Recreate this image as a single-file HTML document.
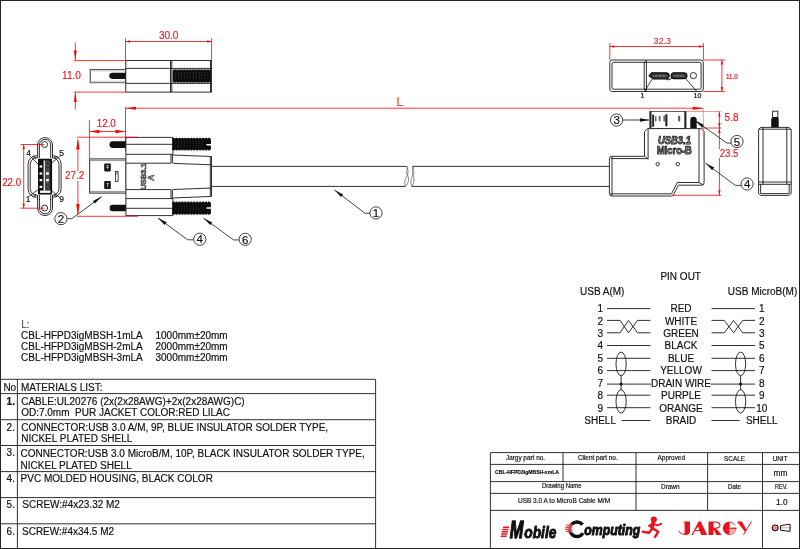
<!DOCTYPE html>
<html><head><meta charset="utf-8">
<style>
html,body{margin:0;padding:0;background:#fff;}
body{width:800px;height:549px;overflow:hidden;font-family:"Liberation Sans",sans-serif;}
svg{display:block;position:absolute;left:0;top:0;will-change:transform;}
text{font-family:"Liberation Sans",sans-serif;}
.k{stroke:#1a1a1a;stroke-width:.9;fill:none;}
.kf{stroke:#1a1a1a;stroke-width:.9;fill:#fff;}
.g{stroke:#555;stroke-width:.7;fill:none;}
.r{stroke:#f00;stroke-width:.8;fill:none;}
.rl{stroke:#f66;stroke-width:.7;fill:none;}
.rt{fill:#e8111a;}
.ra{fill:#f00;stroke:none;}
.b{fill:#111;stroke:none;}
.ld{stroke:#111;stroke-width:.8;fill:none;}
.t{fill:#111;stroke:#111;stroke-width:.18;}
</style></head><body>
<svg width="800" height="549" viewBox="0 0 800 549">
<defs>
<pattern id="kn" width="2.95" height="2.1" patternUnits="userSpaceOnUse"><rect width="2.95" height="2.1" fill="#0b0b0b"/><rect x="1.1" y=".7" width=".8" height=".7" fill="#4a4a4a"/></pattern>
</defs>
<rect width="800" height="549" fill="#fff"/>
<!-- BORDER -->
<g id="border" fill="#222">
<rect x="0" y="0" width="800" height="1"/>
<rect x="0" y="0" width="1" height="549"/>
<rect x="799" y="0" width="1" height="549"/>
<rect x="0" y="548" width="800" height="1"/>
</g>

<!-- TOP-LEFT SIDE VIEW -->
<g id="tl">
<rect class="kf" x="90.2" y="69.4" width="35.4" height="13.3"/>
<rect x="90.6" y="69.8" width="34.8" height="1.6" fill="#cfcfcf"/>
<rect x="90.6" y="80.8" width="34.8" height="1.6" fill="#cfcfcf"/>
<path class="b" d="M125.6 72.8H112.3a3.05 3.05 0 0 0 0 6.1H125.6Z"/>
<rect class="kf" x="125.8" y="60.5" width="85.8" height="31.6"/>
<path class="k" d="M125.8 68.4H211.6M125.8 83.4H211.6M170.5 60.5V92.1M171.8 60.5V92.1M210.5 60.5V92.1" stroke-width=".7"/>
<rect x="172.700" y="69.400" width="38" height="13.300" fill="#0b0b0b"/><rect x="174" y="71.600" width="35" height="8.400" fill="url(#kn)"/><path d="M173 69.750H210.500M173 82.350H210.500" stroke="#e8e8e8" stroke-width=".65" stroke-dasharray="1.500 1.450" fill="none"/>
<path class="r" d="M125.5 38.3V60.5M211.6 38.3V60.5M125.5 41.5H211.6M74 60.6H125.5M74 92.1H125.5M75.3 42.5V60M75.3 92.6V109.5"/>
<path class="ra" d="M125.5 41.5l4.5-1.200v2.400zM211.6 41.5l-4.500-1.200v2.400zM75.3 60.6l-1.4-10h2.8zM75.3 92.1l-1.4 10h2.8z"/>
<text class="rt" x="158.9" y="38.8" font-size="10" textLength="19.5" lengthAdjust="spacingAndGlyphs" stroke="#e8111a" stroke-width=".12">30.0</text>
<text class="rt" x="62" y="79.2" font-size="10" textLength="19" lengthAdjust="spacingAndGlyphs" stroke="#e8111a" stroke-width=".12">11.0</text>
</g>
<!-- L DIM -->
<g id="ldim">
<path class="r" d="M125.5 107V151.500M125.5 108.2H703.2"/><path class="rl" d="M703.300 108.200V128.200"/>
<path class="ra" d="M125.5 108.2l10.5-1.5v3zM703.2 108.2l-10.5-1.5v3z"/>
<text x="396.2" y="105.8" font-size="13.7" fill="#ee4a4a">L</text>
</g>

<!-- FRONT VIEW USB-A -->
<g id="front">
<rect class="kf" x="37.6" y="137.6" width="14.9" height="78" rx="7.4" stroke="#3a3a3a" stroke-width=".75"/>
<rect class="k" x="39.4" y="139.4" width="11.3" height="74.4" rx="5.6" stroke-width=".55" stroke="#555"/>
<rect class="kf" x="28.1" y="155.6" width="33" height="41.8" rx="8.5" stroke="#3a3a3a" stroke-width=".75"/>
<rect class="k" x="30.2" y="157.7" width="28.8" height="37.6" rx="6.8" stroke-width=".55" stroke="#555"/>
<rect x="37.4" y="153" width="15.3" height="46" fill="#fff"/>
<path class="k" d="M37.6 153V158M52.5 153V158M37.6 195V200M52.5 195V200M39.4 153V158M50.7 153V158M39.4 195V200M50.7 195V200" stroke-width=".55" stroke="#555"/>
<path class="k" d="M32.5 156.8l3 .2 -.4 2.2M57.6 156.8l-3 .2 .4 2.2M32.5 196.2l3 -.2 -.4 -2.2M57.6 196.2l-3 -.2 .4 -2.2" stroke-width=".55" stroke="#555"/>
<circle class="kf" cx="44.6" cy="144.5" r="3"/>
<circle class="kf" cx="44.6" cy="208" r="3"/>
<rect x="38" y="158.7" width="14.1" height="35.8" fill="#111"/>
<rect x="44" y="160.4" width="5.800" height="30" fill="#4a4a4a"/>
<rect x="43.6" y="160.4" width="1.2" height="32.4" fill="#fff"/>
<rect x="40" y="190.6" width="10.4" height="2.3" fill="#fff"/>
<g fill="#fff"><rect x="39.6" y="165.4" width="2.6" height="2.2"/><rect x="39.6" y="172.4" width="2.6" height="2.2"/><rect x="39.6" y="179" width="2.6" height="2.2"/><rect x="39.6" y="185.8" width="2.6" height="2.2"/>
<rect x="46.2" y="172.2" width="2.6" height="2.6"/><rect x="46.2" y="179" width="2.6" height="2.4"/></g>
<g fill="#333"><rect x="46" y="163" width="3" height="1"/><rect x="46" y="167" width="3" height="1"/><rect x="46" y="184" width="3" height="1"/><rect x="46" y="187.5" width="3" height="1"/></g>
<path class="ld" d="M30.4 156.4L38.4 164.6M59.8 156.2L52 162.8M29.2 196.2L38.4 189.4M59.8 197.6L52 190.8" stroke-width=".7"/>
<text class="t" x="28.5" y="156.4" font-size="8.400" text-anchor="middle">4</text>
<text class="t" x="61.7" y="156.4" font-size="8.400" text-anchor="middle">5</text>
<text class="t" x="28.2" y="201.8" font-size="8.400" text-anchor="middle">1</text>
<text class="t" x="61.6" y="202.4" font-size="8.400" text-anchor="middle">9</text>
<path class="r" d="M23.7 144.5V208.2M20.5 144.5H44.4M20.5 208.2H44.4"/>
<path class="ra" d="M23.7 144.5l-1.200 4.500h2.400zM23.7 208.2l-1.200 -4.500h2.400z"/>
<text class="rt" x="2.2" y="186.2" font-size="10" textLength="19" lengthAdjust="spacingAndGlyphs" stroke="#e8111a" stroke-width=".12">22.0</text>
</g>

<!-- MAIN USB-A VIEW -->
<g id="usba">
<!-- cable -->
<path d="M211.6 166.4H406.6M211.6 186.400H405.6M412.4 166.4H609.4M411.8 186.400H609.4" stroke="#1a1a1a" stroke-width=".9" fill="none"/>
<path class="g" d="M406.6 166.4c2 4 2 7 0 10c-2 3-2.5 7-1 10M407.8 166.4c-1.6 4-1.2 7 .2 10c1.2 3 .4 7-2.4 10M412.4 166.4c2 4 2 7 0 10c-2 3-2.2 7-.6 10M413.4 166.4c-1.6 4-1.2 7 0 10c1.2 3 .8 7-1.600 10" stroke="#1a1a1a" stroke-width=".75"/>
<!-- plug -->
<rect class="kf" x="89.7" y="158.9" width="36.4" height="34.2"/>
<rect x="90.2" y="159.3" width="35.6" height="1.800" fill="#9c9c9c"/>
<rect x="90.2" y="190.900" width="35.6" height="1.800" fill="#9c9c9c"/>
<rect x="104.2" y="163.4" width="6.6" height="8" rx=".8" fill="#151515"/>
<rect x="104.2" y="181" width="6.6" height="8" rx=".8" fill="#151515"/>
<path d="M106.3 165.6h2.6M106.3 167.4h2.6M107.6 165.6v3.600M106.300 183.6h2.800M107.700 183.6v3.800" stroke="#ddd" stroke-width=".7" fill="none"/>
<rect x="115.500" y="171.400" width="2.600" height="10" fill="#fff" stroke="#1a1a1a" stroke-width=".8"/>
<rect x="116.3" y="171.700" width="1.400" height="3" fill="#888"/>
<!-- screws front pins -->
<path class="b" d="M126 141.200H112.800a3.350 3.350 0 0 0 0 6.700H126Z"/>
<path class="b" d="M126 204.800H112.800a3.200 3.200 0 0 0 0 6.400H126Z"/>
<!-- body -->
<path d="M172.500 155L211.500 156.500V196.400L172.500 198Z" fill="#fff" stroke="none"/>
<path class="k" d="M172.500 155L211.500 156.500V196.400L172.500 198" stroke-width=".8"/>
<path class="k" d="M171 163.300L211.500 164.800M171 189.600L211.500 188M210.300 156.500V196.400" stroke-width=".55" stroke="#333"/>
<rect x="125.900" y="137.400" width="47" height="78.200" fill="#fff"/>
<path class="k" d="M172.900 154.300V137.400H125.900V215.600H172.900V198.600" stroke-width="1"/>
<path class="k" d="M125.900 144.300H172.900M125.900 154.300H172.900M125.900 163.200H171M125.900 189.600H171M125.900 198.600H172.900M125.900 208.300H172.900M171 154.300V163.200M172.400 154.300V163.200M171 189.600V198.600M172.400 189.600V198.600" stroke-width=".7"/>
<!-- knurled heads -->
<g><rect x="172.3" y="138.80" width="38.60" height="10.60" fill="#0b0b0b"/><rect x="173.80" y="141.10" width="29.60" height="6.3" fill="url(#kn)"/><path d="M173.60 139.05H209.70M173.60 149.15H209.70" stroke="#0b0b0b" stroke-width="2.7" stroke-linecap="round" stroke-dasharray="0 2.95" fill="none"/><path d="M211.10 143.95H206.90L206.10 144.70L206.90 145.45H211.10Z" fill="#fff"/></g>
<g><rect x="172.3" y="202.70" width="38.60" height="11" fill="#0b0b0b"/><rect x="173.80" y="205.00" width="29.60" height="6.3" fill="url(#kn)"/><path d="M173.60 202.95H209.70M173.60 213.45H209.70" stroke="#0b0b0b" stroke-width="2.7" stroke-linecap="round" stroke-dasharray="0 2.95" fill="none"/><path d="M211.10 207.15H206.90L206.10 207.90L206.90 208.65H211.10Z" fill="#fff"/></g>
<!-- text on body -->
<g transform="translate(146.300,189.600) rotate(-90)"><text x="0" y="0" font-size="6.800" font-weight="bold" fill="#ccc" stroke="#222" stroke-width=".55" textLength="26.400" lengthAdjust="spacingAndGlyphs">USB3.1</text></g>
<g transform="translate(154.300,180.800) rotate(-90)"><text x="0" y="0" font-size="8.400" font-weight="bold" fill="#eee" stroke="#222" stroke-width=".5">A</text></g>
<!-- dims -->
<path class="r" d="M89.400 120V158.800M89.400 131.500H125.500M77 137.200H137.800M77 216.300H137.800M77.900 140V214"/>
<path class="ra" d="M89.400 131.500l10-1.800v3.600zM125.500 131.500l-10-1.800v3.600zM77.900 138.600l-1.700 11h3.400zM77.900 215l-1.700 -11h3.400z"/>
<rect x="64" y="171" width="22" height="10" fill="#fff"/>
<text class="rt" x="96.8" y="126.8" font-size="10" textLength="19" lengthAdjust="spacingAndGlyphs" stroke="#e8111a" stroke-width=".12">12.0</text>
<text class="rt" x="65" y="179.3" font-size="10" textLength="19.4" lengthAdjust="spacingAndGlyphs" stroke="#e8111a" stroke-width=".12">27.2</text>
</g>
<!-- balloons left -->
<g id="ball-l">
<path class="ld" d="M101.600 196.600L71.800 218.700H67.500M158 218L187.600 239.800H193.500M203.600 218.200L233.600 239.900H239M334.500 190L365 213.300H370"/>
<path class="b" d="M101.6 196.6L93.0 200.9L95.0 203.6ZM158.0 218.0L164.6 225.0L166.7 222.3ZM203.6 218.2L210.3 225.1L212.3 222.4ZM334.5 190.0L341.0 197.1L343.1 194.4Z"/>
<g class="ld" fill="#fff"><circle cx="60.900" cy="218.700" r="6.100"/><circle cx="199.800" cy="239.200" r="6.100"/><circle cx="245.200" cy="239.300" r="6.100"/><circle cx="376" cy="212.900" r="6.100"/></g>
<g class="t" font-size="11.500" text-anchor="middle"><text x="60.900" y="222.900">2</text><text x="199.800" y="243.400">4</text><text x="245.200" y="243.500">6</text><text x="376" y="217.100">1</text></g>
</g>
<!-- TOP-RIGHT MICRO-B FRONT VIEW -->
<g id="tr">
<rect class="kf" x="609.800" y="60" width="93.500" height="31.500" rx="2.500"/>
<rect class="k" x="612" y="62.300" width="89.100" height="26.900" rx="1.500" stroke-width=".45" stroke="#444"/>
<path class="k" d="M644.200 62.500V89M646.400 61V90.500M644.200 62.500L646.400 60.200M644.200 89L646.400 91.300" stroke-width=".55" stroke="#333"/>
<path d="M651.600 72.800H666a3 3 0 0 1 0 6.200H653.500L649.200 75.800Z" fill="#3a3a3a" stroke="#0c0c0c" stroke-width="1.200"/>
<path d="M653.500 75.800H666" stroke="#bbb" stroke-width="1.600" stroke-dasharray=".5 .9" fill="none"/>
<path d="M674 72.800H684a2.900 2.900 0 0 1 0 5.800H674a2.900 2.900 0 0 1 0-5.800Z" fill="#3a3a3a" stroke="#0c0c0c" stroke-width="1.200"/>
<path d="M674.500 75.700H684" stroke="#bbb" stroke-width="1.600" stroke-dasharray=".5 .9" fill="none"/>
<path d="M666 78.700c1.500 1.500 3.500 1.500 5.500-.5" stroke="#111" stroke-width="1" fill="none"/>
<circle class="kf" cx="693.400" cy="75.600" r="3.100"/>
<path class="ld" d="M652.200 79L644.600 91.200M685.400 78.400L696.600 91.200" stroke-width=".7"/>
<text class="t" x="642.600" y="97.600" font-size="7.200" text-anchor="middle">1</text>
<text class="t" x="697.400" y="97.600" font-size="7.200" text-anchor="middle">10</text>
<path class="r" d="M609.800 43V60M703.400 43V60M609.800 46.500H703.400M703.400 60H725M703.400 91.500H725M721.900 60V91.500"/>
<path class="ra" d="M609.800 46.500l4.500-1.200v2.400zM703.400 46.500l-4.500-1.200v2.400zM721.900 60l-1.200 4.500h2.400zM721.900 91.500l-1.200-4.500h2.400z"/>
<text class="rt" x="662.200" y="43.500" font-size="9" text-anchor="middle">32.3</text>
<text class="rt" x="726" y="79.100" font-size="6.800" textLength="11.800" lengthAdjust="spacingAndGlyphs" stroke="#e8111a" stroke-width=".2">11.0</text>
</g>
<!-- MICRO-B MAIN VIEW -->
<g id="microb">
<!-- plug -->
<rect x="650" y="111.500" width="36" height="17" fill="#fff" stroke="#222" stroke-width=".7"/>
<rect x="649.600" y="111.300" width="1.900" height="17" fill="#222"/>
<rect x="684.300" y="111.300" width="1.800" height="17" fill="#222"/>
<rect x="652.200" y="114.600" width="1.900" height="12.200" fill="#222"/>
<rect x="655" y="116.200" width="1.500" height="5.200" fill="#666"/>
<rect x="658.700" y="116" width="1.800" height="5.300" fill="#666"/>
<rect x="663.400" y="115.600" width="1.700" height="5.800" fill="#666"/>
<rect x="665.300" y="114.200" width="2.100" height="12" fill="#222"/>
<rect x="678.200" y="115.800" width="2" height="5.500" fill="#555"/>
<!-- pin 5 -->
<path class="b" d="M690.300 128V120a3.200 3.200 0 0 1 6.400 0V128Z"/>
<!-- body -->
<path class="kf" d="M647.500 128.600H701.200L704.100 131.600V182.600Q704.100 185.200 701.500 185.200H678.300L673.400 195.100Q673 196 671.500 196H611.800Q609.400 196 609.400 193.600V158.600Q609.400 156.300 611.800 156.300H644.500V131.600Z"/>
<path class="k" d="M648.100 129V159.300L645 156.300M612 156.300V196M699 128.600V182.500H677.300L671.500 193.800H610M699 182.500L703 185M611 158.600H647.400" stroke-width=".5" stroke="#333"/>
<circle class="k" cx="657.700" cy="164.200" r="1.700" stroke-width=".6"/>
<circle class="k" cx="677.800" cy="164.200" r="1.700" stroke-width=".6"/>
<text x="658.100" y="144.100" font-size="10" font-weight="bold" font-style="italic" fill="#a8a8a8" stroke="#111" stroke-width=".75" textLength="32.800" lengthAdjust="spacingAndGlyphs">USB3.1</text>
<text x="656.900" y="153.700" font-size="10" font-weight="bold" fill="#a8a8a8" stroke="#111" stroke-width=".75" textLength="34.900" lengthAdjust="spacingAndGlyphs">Micro-B</text>
<!-- dims -->
<path class="rl" d="M686 111.500H721M703.400 128.200V161" />
<path class="r" d="M701 128H721M672 195.300H721M719.400 111.500V195.300"/>
<path class="ra" d="M719.400 111.500l-1.200 5h2.400zM719.400 128l-1.200-5h2.400zM719.400 128l-1.200 5h2.400zM719.400 195.300l-1.200-5h2.400z"/>
<text class="rt" x="724.6" y="121.1" font-size="10" textLength="13.9" lengthAdjust="spacingAndGlyphs" stroke="#e8111a" stroke-width=".12">5.8</text>
<rect x="716" y="149" width="8" height="9" fill="#fff"/>
<text class="rt" x="719.8" y="156.7" font-size="10" textLength="18.6" lengthAdjust="spacingAndGlyphs" stroke="#e8111a" stroke-width=".12">23.5</text>
</g>
<!-- balloons right -->
<g id="ball-r">
<path class="ld" d="M623 120H649M695.100 120.600L727 143.100H731M705.600 163.200L735.300 185.400H741"/>
<path class="b" d="M649.4 120.0L639.9 118.3L639.9 121.7ZM695.1 120.6L701.9 127.5L703.8 124.7ZM705.6 163.2L712.2 170.2L714.2 167.5Z"/>
<g class="ld" fill="#fff"><circle cx="616.600" cy="120" r="6.100"/><circle cx="737" cy="141.500" r="6.100"/><circle cx="747.100" cy="184" r="6.100"/></g>
<g class="t" font-size="11.500" text-anchor="middle"><text x="616.600" y="124.200">3</text><text x="737" y="145.700">5</text><text x="747.100" y="188.200">4</text></g>
</g>
<!-- RIGHT SIDE VIEW -->
<g id="sideview">
<rect class="kf" x="772.600" y="111.200" width="5.200" height="16" stroke-width=".7"/>
<path d="M771.200 127.400V119.500L772.400 117H778L778.600 119.500V127.400Z" fill="#111"/>
<path class="kf" d="M760.600 127.400H789.200L791.200 129.400V193.400L789.200 195.400H760.600L758.600 193.400V129.400Z"/>
<path class="k" d="M763 127.400V184.300M786.800 127.400V184.300M758.600 182H791.200M758.600 184.300H791.200M760.600 184.300V193.600H789.200V184.300M758.800 129.200H791" stroke-width=".5" stroke="#333"/>
</g>
<!-- L LIST -->
<g id="llist" class="t" font-size="10">
<text x="21.200" y="327.500" fill="#666">L:</text>
<text x="21" y="338.900">CBL-HFPD3igMBSH-1mLA</text><text x="155.500" y="338.900">1000mm±20mm</text>
<text x="21" y="349.900">CBL-HFPD3igMBSH-2mLA</text><text x="155.500" y="349.900">2000mm±20mm</text>
<text x="21" y="361.100">CBL-HFPD3igMBSH-3mLA</text><text x="155.500" y="361.100">3000mm±20mm</text>
</g>
<!-- MATERIALS TABLE -->
<g id="mat">
<path class="k" d="M1 379.300H375.600V548M17.400 379.300V548M1 393.600H375.600M1 419.700H375.600M1 445.500H375.600M1 471.600H375.600M1 497.600H375.600M1 523.800H375.600" stroke-width=".8" stroke="#222"/>
<g class="t" font-size="10">
<text x="3.400" y="390.9">No</text><text x="21" y="390.9">MATERIALS LIST:</text>
<text x="6.600" y="405.2" font-weight="bold">1.</text><text x="21.200" y="405.4">CABLE:UL20276 (2x(2x28AWG)+2x(2x28AWG)C)</text><text x="21.200" y="416.4" xml:space="preserve">OD:7.0mm  PUR JACKET COLOR:RED LILAC</text>
<text x="6.600" y="430.6">2.</text><text x="21.200" y="430.6">CONNECTOR:USB 3.0 A/M, 9P, BLUE INSULATOR SOLDER TYPE,</text><text x="21.200" y="441.9">NICKEL PLATED SHELL</text>
<text x="6.600" y="456.4">3.</text><text x="20.600" y="457.0">CONNECTOR:USB 3.0 MicroB/M, 10P, BLACK INSULATOR SOLDER TYPE,</text><text x="20.600" y="468.5">NICKEL PLATED SHELL</text>
<text x="6.600" y="482.1">4.</text><text x="20.600" y="482.1">PVC MOLDED HOUSING, BLACK COLOR</text>
<text x="6.600" y="507.9">5.</text><text x="22.300" y="507.9">SCREW:#4x23.32 M2</text>
<text x="6.600" y="535.1">6.</text><text x="22" y="535.1">SCREW:#4x34.5 M2</text>
</g>
</g>

<!-- PINOUT -->
<g id="pinout">
<g class="t" font-size="10">
<text x="680.700" y="280" text-anchor="middle">PIN OUT</text>
<text x="580" y="295.200">USB A(M)</text>
<text x="727.800" y="295.200">USB MicroB(M)</text>
<g text-anchor="middle">
<text x="681" y="312.200">RED</text><text x="681" y="324.600">WHITE</text><text x="681" y="337">GREEN</text><text x="681" y="349.400">BLACK</text><text x="681" y="361.800">BLUE</text><text x="681" y="374.200">YELLOW</text><text x="681" y="386.800">DRAIN WIRE</text><text x="681" y="399.200">PURPLE</text><text x="681" y="411.600">ORANGE</text><text x="681" y="424">BRAID</text>
</g>
<g text-anchor="end">
<text x="603" y="312.200">1</text><text x="603" y="324.600">2</text><text x="603" y="337">3</text><text x="603" y="349.400">4</text><text x="603" y="361.800">5</text><text x="603" y="374.200">6</text><text x="603" y="386.800">7</text><text x="603" y="399.200">8</text><text x="603" y="411.600">9</text><text x="616" y="424">SHELL</text>
</g>
<text x="759" y="312.200">1</text><text x="759" y="324.600">2</text><text x="759" y="337">3</text><text x="759" y="349.400">5</text><text x="759" y="361.800">6</text><text x="759" y="374.200">7</text><text x="759" y="386.800">8</text><text x="759" y="399.200">9</text><text x="756.200" y="411.600">10</text><text x="745.900" y="424">SHELL</text>
</g>
<path class="k" stroke="#222" stroke-width=".75" d="M607 308.600H650.400M607 320.400H620.100L628.500 332.800L637.500 320.400H650.400M607 332.800H620.100L628.500 320.400L637.500 332.800H650.400M607 345.500H650.400M607 358.300H650.400M607 370.600H650.400M607 384.100H651M607 395.200H650.400M607 407.700H650.400M621.600 420.500H650.400
M711.500 308.600H755M711.500 320.400H724.300L733.600 332.800L742.700 320.400H755M711.500 332.800H724.300L733.600 320.400L742.700 332.800H755M711.500 345.500H755M711.500 358.300H755M711.500 370.600H755M710.500 384.100H755M711.500 395.200H755M711.500 407.700H755M711.500 420.500H739.700
M621.100 375.700V389.700M740.600 375.700V389.700"/>
<g class="k" stroke-width=".75"><ellipse cx="621.100" cy="363.900" rx="5.100" ry="11.800"/><ellipse cx="621.100" cy="401.400" rx="5.100" ry="11.700"/><ellipse cx="740.600" cy="363.900" rx="5.100" ry="11.800"/><ellipse cx="740.600" cy="401.400" rx="5.100" ry="11.700"/></g>
<circle cx="621.100" cy="384.100" r="1.500" fill="#111"/><circle cx="740.600" cy="384.100" r="1.500" fill="#111"/>
</g>

<!-- TITLE BLOCK -->
<g id="title">
<path class="k" stroke="#222" stroke-width=".8" d="M799 452.600H490.400V548M490.400 464.400H799M490.400 481.600H799M490.400 493.400H799M490.400 510.400H799M563 452.600V481.600M636 452.600V510.400M707.600 452.600V510.400M762.500 452.600V548"/>
<g class="t" font-size="6.400" text-anchor="middle">
<text x="525.500" y="459.700">Jargy part no.</text><text x="597.800" y="459.700">Client part no.</text><text x="671.300" y="459.700">Approved</text><text x="734.500" y="460.600">SCALE</text><text x="780.100" y="460.600">UNIT</text>
<text x="561.800" y="488.400" textLength="39.600" lengthAdjust="spacingAndGlyphs">Drawing Name</text><text x="670.300" y="489">Drawn</text><text x="734.500" y="489" textLength="13" lengthAdjust="spacingAndGlyphs">Date</text><text x="781.300" y="489" font-size="6.800" textLength="12.600" lengthAdjust="spacingAndGlyphs">REV.</text>
<text x="564" y="503" font-size="6.500">USB 3.0 A to MicroB Cable M/M</text>
<text x="780.600" y="475.800" font-size="8.400">mm</text><text x="781.800" y="504.600" font-size="8.300">1.0</text>
<text x="527" y="473.600" font-size="5.070" font-weight="bold">CBL-HFPD3igMBSH-xmLA</text>
</g>
<!-- logo -->
<g id="logo">
<g fill="#e8141c"><path d="M503.400 526.600h6l-.5 1.500h-6zM502.600 528.800h6.200l-.5 1.500h-6.200zM502 531h6.200l-.5 1.500h-6.200zM501.400 533.200h6.200l-.5 1.500h-6.200zM501 535.400h6l-.5 1.700h-6z"/>
</g>
<text transform="translate(509.800,537.600) scale(.7,1)" font-size="23.400" font-weight="bold" font-style="italic" fill="#111" stroke="#111" stroke-width="1.300" stroke-linejoin="round">M</text>
<text transform="translate(524.300,537.500) scale(.86,1)" font-size="16" font-weight="bold" font-style="italic" fill="#111" stroke="#111" stroke-width=".900" stroke-linejoin="round">obile</text>
<path d="M582.600 524.600A7.300 7.300 0 1 0 583.100 533.200" fill="none" stroke="#111" stroke-width="3.400"/><path d="M565.800 524.400h6.800v1.400h-6.300zM565 526.500h7.200v1.400h-6.700zM564.800 528.600h7.200v1.400h-6.800zM565.400 530.700h7v1.500h-6.200z" fill="#e8141c" stroke="#fff" stroke-width=".3"/>
<text transform="translate(584.200,535.200) scale(.82,1)" font-size="15" font-weight="bold" font-style="italic" fill="#111" stroke="#111" stroke-width="1" stroke-linejoin="round">omputing</text>
<!-- runner -->
<g stroke="#e8141c" fill="none" stroke-linecap="round" stroke-linejoin="round">
<circle cx="653.800" cy="519.600" r="2.500" fill="#e8141c" stroke-width="1.200"/>
<path d="M653 522.500L652.500 528.600" stroke-width="3.400"/>
<path d="M653.400 523.600L657.500 525.500L661.300 523.700" stroke-width="1.900"/>
<path d="M652.400 523.800L649 525.800L651 527" stroke-width="1.900"/>
<path d="M652.200 528.800L649 532.800L642.800 531.800" stroke-width="2.500"/>
<path d="M653.400 528.800L658.200 531.800L655 536.800" stroke-width="2.500"/>
</g>
<!-- JARGY -->
<g fill="#e8141c" stroke="none">
<path d="M683.500 521.500H690V531Q690 535 685.500 535Q680.500 535 678.300 531L679 530.500Q681 533.900 684 533.900Q684.600 533.900 684.600 532V522.400H683.500Z"/>
<path d="M698.600 521.500H700.800L707.200 535H701.200L699.700 531H695L693 535H691.500ZM695.500 530.100H699.300L698.200 526.500Z" fill-rule="evenodd"/>
<path d="M708.500 521.500H715.500Q720.500 521.500 720.500 525Q720.500 528.200 716.200 528.600L721.800 535H716.300L713.500 529V535H708.500ZM713.500 522.400V527.800H714.500Q719.400 527.800 719.400 525Q719.400 522.400 714.500 522.400Z" fill-rule="evenodd"/>
<path d="M729.600 521.600A6.700 6.700 0 0 0 729.600 535Z"/>
<path d="M729.600 522.050A6.250 6.250 0 0 1 735 525.200M735.850 528.300A6.250 6.250 0 0 1 729.600 534.550" fill="none" stroke="#e8141c" stroke-width=".9"/>
<path d="M729.600 527.600H736.400V528.900H729.600Z"/>
<path d="M729.600 528.900H735.700A6.200 6.200 0 0 1 729.600 534.400Z" fill="#f7b0b0"/>
<path d="M736.800 521.500H742L746.300 529.300L751 521.500H752L745.900 531.500L744 535H743L744.800 531.500Z"/>
</g>
<!-- projection symbol -->
<circle cx="775.200" cy="527.800" r="2.800" fill="#fff" stroke="#111" stroke-width="1.200"/>
<circle cx="775.200" cy="527.800" r="1.200" fill="none" stroke="#e44" stroke-width=".6"/>
<path d="M771 527.800H779.500M775.200 523.800V531.800M780 527.800H791.500" stroke="#f33" stroke-width=".5" fill="none"/>
<path d="M780.600 525.600L790 524.200V531.400L780.600 530.200Z" fill="none" stroke="#111" stroke-width="1"/>
</g>
</g>
<!--SECTIONS-->







</svg>
</body></html>
